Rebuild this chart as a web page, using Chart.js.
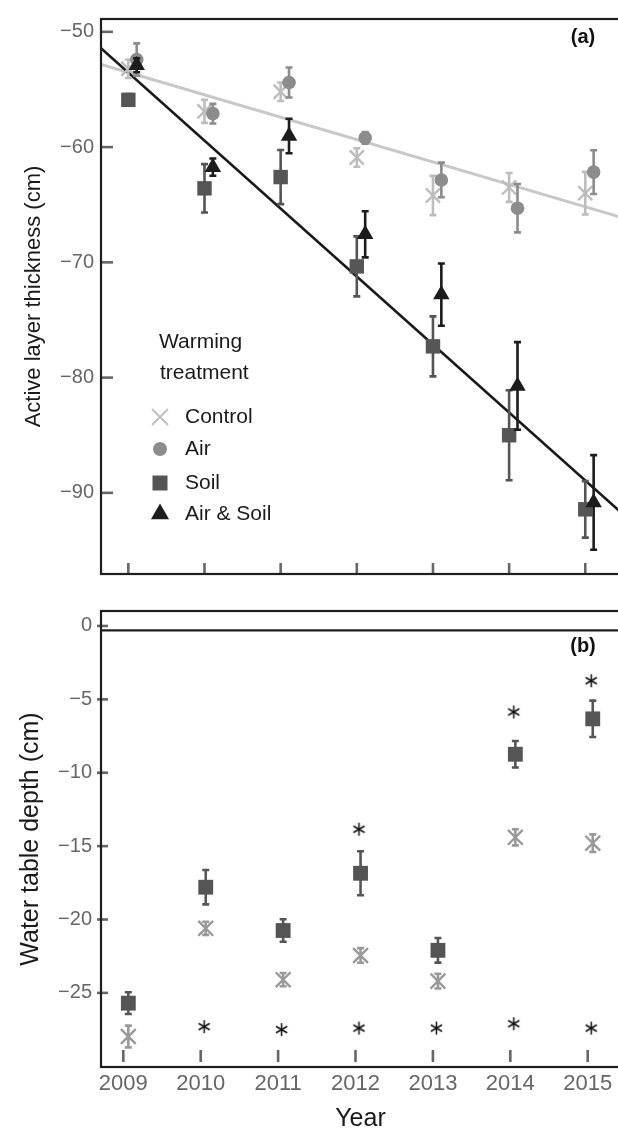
<!DOCTYPE html>
<html><head><meta charset="utf-8">
<script src="https://cdn.jsdelivr.net/npm/chart.js@4/dist/chart.umd.min.js"></script>
<style>
html,body{margin:0;padding:0;background:#fff;overflow:hidden;width:618px;height:1133px;position:relative;}
#c1{position:absolute;left:0;top:0;}
#c2{position:absolute;left:0;top:590px;}
</style></head><body>
<canvas id="c1" width="640" height="600"></canvas>
<canvas id="c2" width="640" height="545"></canvas>
<script>
// ---------- data ----------
const years = [2009, 2010, 2011, 2012, 2013, 2014, 2015];
const xTickLabels = ['2009', '2010', '2011', '2012', '2013', '2014', '2015'];
const yTicksTop = [-90, -80, -70, -60, -50];
const yTicksBottom = [-25, -20, -15, -10, -5, 0];

// (a) active layer thickness (cm)
const ctrlALT = [-53.2, -56.9, -55.2, -60.9, -64.2, -63.5, -64.0];
const ctrlALTErr = [0.8, 1.0, 0.8, 0.8, 1.7, 1.25, 1.85];
const airALT = [-52.4, -57.1, -54.4, -59.2, -62.85, -65.3, -62.17];
const airALTErr = [1.4, 0.85, 1.3, 0.5, 1.5, 2.1, 1.9];
const soilALT = [-55.9, -63.58, -62.6, -70.35, -77.29, -85.0, -91.43];
const soilALTErr = [0.5, 2.1, 2.35, 2.6, 2.6, 3.9, 2.45];
const bothALT = [-52.9, -61.74, -59.04, -67.57, -72.8, -80.72, -90.83];
const bothALTErr = [0.6, 0.75, 1.5, 2.0, 2.7, 3.8, 4.1];
// fitted regression lines (end points)
const fitX = [2008.6, 2015.5];
const fitAmbientSoil = [-52.74, -66.15];   // control & air
const fitWarmedSoil = [-51.19, -91.87];    // soil & air+soil

// (b) water table depth (cm)
const soilWT = [-25.7, -17.8, -20.75, -16.85, -22.1, -8.74, -6.33];
const soilWTErr = [0.74, 1.17, 0.77, 1.5, 0.84, 0.9, 1.24];
const ctrlWT = [-27.97, -20.6, -24.1, -22.45, -24.2, -14.4, -14.8];
const ctrlWTErr = [0.74, 0.45, 0.45, 0.5, 0.5, 0.55, 0.6];
const sigLowYears = [2010, 2011, 2012, 2013, 2014, 2015];
const sigLowY = [-27.3, -27.5, -27.4, -27.4, -27.1, -27.4];
const sigHighYears = [2012, 2014, 2015];
const sigHighY = [-13.85, -5.86, -3.73];
const surfaceX = [2008.6, 2015.5];
const surfaceY = [-0.3, -0.3];

// ---------- helpers ----------
const FONT = "'Liberation Sans', Arial, Helvetica, sans-serif";
const C_CTRL = '#bdbdbd', C_AIR = '#8c8c8c', C_SOIL = '#555555', C_BOTH = '#1c1c1c';
const C_CTRL_B = '#999999';
const DODGE_A_LEFT = 0, DODGE_A_RIGHT = 0.11, DODGE_B = 0.065, DODGE_STAR = 0.045;

const pts = (xs, ys, dx) => xs.map((x, i) => ({x: x + dx, y: ys[i]}));
const minus = v => String(v).replace('-', '\u2212');

function makeStar(size, color) {
  const c = document.createElement('canvas');
  c.width = size; c.height = size;
  const g = c.getContext('2d');
  g.strokeStyle = color; g.lineWidth = 1.5;
  const r = size / 2 - 1, cx = size / 2, cy = size / 2;
  for (let k = 0; k < 3; k++) {
    const a = Math.PI / 2 + k * Math.PI / 3;
    g.beginPath();
    g.moveTo(cx + r * Math.cos(a), cy + r * Math.sin(a));
    g.lineTo(cx - r * Math.cos(a), cy - r * Math.sin(a));
    g.stroke();
  }
  return c;
}
const starImg = makeStar(15, '#111');

const errorBars = {
  id: 'errbars',
  beforeDatasetDraw(chart, args) {
    const ds = chart.data.datasets[args.index];
    if (!ds.errors) return;
    const ctx = chart.ctx, ys = chart.scales.y, cap = 3.5;
    ctx.save();
    ctx.strokeStyle = ds.errColor || ds.borderColor;
    ctx.lineWidth = 2.6;
    ctx.lineCap = 'butt';
    args.meta.data.forEach((el, i) => {
      const v = ds.data[i].y, e = ds.errors[i];
      const x = el.x, y1 = ys.getPixelForValue(v + e), y2 = ys.getPixelForValue(v - e);
      ctx.beginPath();
      ctx.moveTo(x, y1); ctx.lineTo(x, y2);
      ctx.moveTo(x - cap, y1); ctx.lineTo(x + cap, y1);
      ctx.moveTo(x - cap, y2); ctx.lineTo(x + cap, y2);
      ctx.stroke();
    });
    ctx.restore();
  }
};

const frame = {
  id: 'frame',
  afterDraw(chart, args, o) {
    const {ctx, chartArea: a} = chart;
    const xs = chart.scales.x, ys = chart.scales.y;
    ctx.save();
    ctx.strokeStyle = '#666'; ctx.lineWidth = 2.6; ctx.lineCap = 'butt';
    o.xTicks.forEach(v => {
      const px = xs.getPixelForValue(v);
      ctx.beginPath(); ctx.moveTo(px, a.bottom - o.xFrom); ctx.lineTo(px, a.bottom - o.xTo); ctx.stroke();
    });
    o.yTicks.forEach(v => {
      const py = ys.getPixelForValue(v);
      ctx.beginPath(); ctx.moveTo(a.left + o.yFrom, py); ctx.lineTo(a.left + o.yTo, py); ctx.stroke();
    });
    ctx.strokeStyle = '#1e1e1e'; ctx.lineWidth = 2.2;
    ctx.strokeRect(a.left, a.top, a.right - a.left, a.bottom - a.top);
    ctx.fillStyle = '#111'; ctx.font = 'bold 20px ' + FONT;
    ctx.textAlign = 'center'; ctx.textBaseline = 'middle';
    ctx.fillText(o.label, o.labelX, o.labelY);
    ctx.restore();
  }
};

const legendItems = [
  {text: 'Control', style: 'x', color: C_CTRL},
  {text: 'Air', style: 'circle', color: C_AIR},
  {text: 'Soil', style: 'rect', color: C_SOIL},
  {text: 'Air & Soil', style: 'triangle', color: C_BOTH}
];
const legendPlugin = {
  id: 'innerLegend',
  afterDraw(chart) {
    const ctx = chart.ctx;
    ctx.save();
    ctx.fillStyle = '#1a1a1a';
    ctx.font = '21px ' + FONT;
    ctx.textAlign = 'left'; ctx.textBaseline = 'middle';
    ctx.fillText('Warming', 159, 342);
    ctx.fillText('treatment', 160, 373);
    const ys = [417, 449, 483, 514];
    legendItems.forEach((it, i) => {
      const cx = 160, cy = ys[i];
      ctx.fillStyle = it.color; ctx.strokeStyle = it.color;
      if (it.style === 'x') {
        ctx.lineWidth = 1.8; const r = 8;
        ctx.beginPath(); ctx.moveTo(cx - r, cy - r); ctx.lineTo(cx + r, cy + r);
        ctx.moveTo(cx + r, cy - r); ctx.lineTo(cx - r, cy + r); ctx.stroke();
      } else if (it.style === 'circle') {
        ctx.beginPath(); ctx.arc(cx, cy, 7, 0, Math.PI * 2); ctx.fill();
      } else if (it.style === 'rect') {
        ctx.fillRect(cx - 7.5, cy - 7.5, 15, 15);
      } else {
        const r = 10.5;
        ctx.beginPath(); ctx.moveTo(cx, cy - r);
        ctx.lineTo(cx + 0.866 * r, cy + 0.5 * r); ctx.lineTo(cx - 0.866 * r, cy + 0.5 * r);
        ctx.closePath(); ctx.fill();
      }
      ctx.fillStyle = '#1a1a1a';
      ctx.fillText(it.text, 185, cy);
    });
    ctx.restore();
  }
};

const scatterDS = (label, data, color, style, radius, errors, order, extra) => Object.assign({
  type: 'scatter', label, data, errors, order,
  pointStyle: style, pointRadius: radius, pointHoverRadius: radius,
  backgroundColor: color, borderColor: color, pointBorderWidth: style === 'crossRot' ? 2.4 : 0,
  showLine: false
}, extra || {});

Chart.defaults.font.family = FONT;

// ---------- panel (a) ----------
new Chart(document.getElementById('c1'), {
  data: {
    datasets: [
      {type: 'line', label: 'fit warmed', data: pts(fitX, fitWarmedSoil, 0), borderColor: '#1a1a1a', borderWidth: 2.6, pointRadius: 0, order: 20},
      {type: 'line', label: 'fit ambient', data: pts(fitX, fitAmbientSoil, 0), borderColor: '#c8c8c8', borderWidth: 3, pointRadius: 0, order: 21},
      scatterDS('Control', pts(years, ctrlALT, DODGE_A_LEFT), C_CTRL, 'crossRot', 10, ctrlALTErr, 4),
      scatterDS('Air', pts(years, airALT, DODGE_A_RIGHT), C_AIR, 'circle', 6.8, airALTErr, 3),
      scatterDS('Soil', pts(years, soilALT, DODGE_A_LEFT), C_SOIL, 'rect', 10.2, soilALTErr, 2),
      scatterDS('Air & Soil', pts(years, bothALT, DODGE_A_RIGHT), C_BOTH, 'triangle', 9.5, bothALTErr, 1)
    ]
  },
  options: {
    responsive: false, animation: false, devicePixelRatio: 1,
    layout: {padding: {left: 0, top: 12, right: 20, bottom: 26}},
    plugins: {legend: {display: false}, tooltip: {enabled: false},
      frame: {xTicks: years, yTicks: yTicksTop, xFrom: 0, xTo: 11, yFrom: 1, yTo: 12, label: '(a)', labelX: 583, labelY: 37}},
    scales: {
      x: {type: 'linear', min: 2008.641, max: 2015.456, display: false},
      y: {type: 'linear', min: -97.04, max: -48.886, position: 'left',
        afterFit: s => { s.width = 101; },
        afterBuildTicks: s => { s.ticks = yTicksTop.map(v => ({value: v})); },
        grid: {display: false, drawTicks: false}, border: {display: false},
        ticks: {color: '#666', font: {size: 20}, padding: 7, callback: v => minus(v)},
        title: {display: true, text: 'Active layer thickness (cm)', color: '#1a1a1a', font: {size: 22}, padding: {top: 21, bottom: 0}}
      }
    }
  },
  plugins: [errorBars, frame, legendPlugin]
});

// ---------- panel (b) ----------
new Chart(document.getElementById('c2'), {
  data: {
    datasets: [
      {type: 'line', label: 'surface', data: pts(surfaceX, surfaceY, 0), borderColor: '#1e1e1e', borderWidth: 2.4, pointRadius: 0, order: 20},
      scatterDS('Control', pts(years, ctrlWT, DODGE_B), C_CTRL_B, 'crossRot', 10.5, ctrlWTErr, 3),
      scatterDS('Soil', pts(years, soilWT, DODGE_B), C_SOIL, 'rect', 10.5, soilWTErr, 2),
      scatterDS('sig low', pts(sigLowYears, sigLowY, DODGE_STAR), '#111', starImg, 7, null, 1),
      scatterDS('sig high', pts(sigHighYears, sigHighY, DODGE_STAR), '#111', starImg, 7, null, 1)
    ]
  },
  options: {
    responsive: false, animation: false, devicePixelRatio: 1,
    layout: {padding: {left: 0, top: 13, right: 20, bottom: 0}},
    plugins: {legend: {display: false}, tooltip: {enabled: false},
      frame: {xTicks: years, yTicks: yTicksBottom, xFrom: 5, xTo: 17, yFrom: -4, yTo: 7, label: '(b)', labelX: 583, labelY: 56}},
    scales: {
      x: {type: 'linear', min: 2008.712, max: 2015.417, position: 'bottom',
        afterFit: s => { s.height = 68; },
        afterBuildTicks: s => { s.ticks = years.map(v => ({value: v})); },
        grid: {display: false, drawTicks: false}, border: {display: false},
        ticks: {color: '#666', font: {size: 22}, padding: 4, callback: (v, i) => xTickLabels[i]},
        title: {display: true, text: 'Year', color: '#1a1a1a', font: {size: 25}, padding: {top: 0, bottom: 1}}
      },
      y: {type: 'linear', min: -30.05, max: 1.02, position: 'left',
        afterFit: s => { s.width = 101; },
        afterBuildTicks: s => { s.ticks = yTicksBottom.map(v => ({value: v})); },
        grid: {display: false, drawTicks: false}, border: {display: false},
        ticks: {color: '#666', font: {size: 20}, padding: 9, callback: v => minus(v)},
        title: {display: true, text: 'Water table depth (cm)', color: '#1a1a1a', font: {size: 25}, padding: {top: 16, bottom: 0}}
      }
    }
  },
  plugins: [errorBars, frame]
});
</script>
</body></html>
